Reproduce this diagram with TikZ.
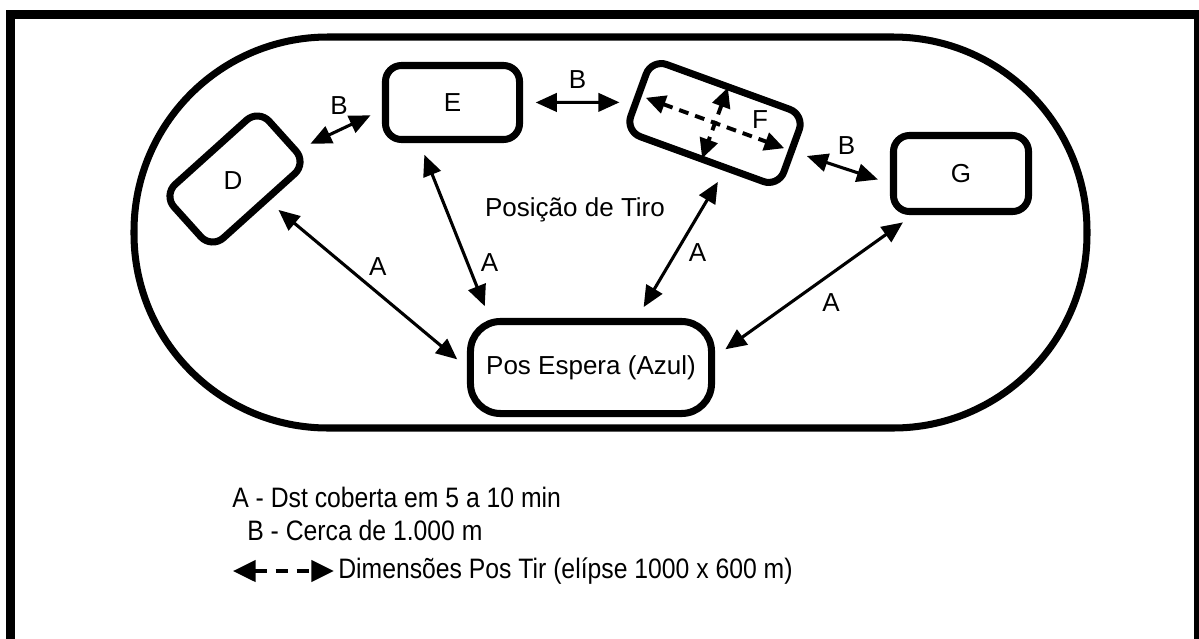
\documentclass[tikz,border=0pt]{standalone}
\usepackage{fontspec}
\setmainfont{Liberation Sans}
\newfontfamily\legendfont[FakeStretch=0.88]{Liberation Sans}
\usetikzlibrary{arrows.meta,positioning}
\tikzset{
	posbox/.style={draw, line width=5pt, rounded corners=0.4cm, inner sep=0, minimum width=3.35cm, minimum height=1.85cm},
	link/.style={<->, >={Triangle[width=13pt,length=15pt]}, line width=2.2pt, shorten <=9pt, shorten >=9pt},
	dimlink/.style={<->, >={Triangle[width=13pt,length=14pt]}, line width=2.8pt, dash pattern=on 7pt off 5pt},
	legend/.style={anchor=west, inner sep=0, font=\legendfont\fontsize{20}{24}\selectfont}
}
\begin{document}
\begin{tikzpicture}[x=0.025cm, y=-0.025cm, font=\fontsize{18.5}{22}\selectfont]
	\useasboundingbox (0,0) rectangle (1199,639);
	%%% frame and track
	\draw[line width=6.4pt] (10.5,14.5) rectangle (1198.5,643);
	\draw[line width=5pt, rounded corners=4.85cm] (134,37) rectangle (1087,428);

	%%% positions
	\node[posbox, rotate=42, minimum width=3.2cm, minimum height=1.8cm] (D) at (235,179) {};
	\node (Dtxt) at (233,181) {D};
	\node[posbox] (E) at (452.5,102.5) {E};
	\node[posbox, rotate=-20, minimum width=4.07cm, minimum height=1.92cm] (F) at (715,123) {};
	\node (Ftxt) at (760,120) {F};
	\node[posbox, minimum width=3.375cm, minimum height=1.9cm] (G) at (961,173.5) {G};
	\node[posbox, rounded corners=0.75cm, minimum width=6.025cm, minimum height=2.3cm] (P) at (591,367.5) {Pos Espera (Azul)};
	\node (tiro) at (575,210) {Posição de Tiro};

	%%% B links
	\draw[link] (D.-17) -- node[midway,xshift=-1pt,yshift=17pt] {B} (E.186);
	\draw[link] (E.east) -- node[midway,yshift=16pt] {B} (F.186);
	\draw[link] (F.east) -- node[midway,xshift=3pt,yshift=16pt] {B} (G.188);

	%%% A links
	\draw[link] (D.-76) -- node[midway,xshift=7pt,yshift=13pt] {A} (P.west);
	\draw[link] (E.231) -- node[pos=0.7,xshift=15pt,yshift=2pt] {A} (P.154);
	\draw[link] (F.-59) -- node[midway,xshift=12pt,yshift=-6pt] {A} (P.47);
	\draw[link] (G.221) -- node[midway,xshift=12pt,yshift=-12pt] {A} (P.5);

	%%% shooting area
	\draw[dimlink, shorten <=8pt, shorten >=8pt] (F.west) -- (F.east);
	\draw[dimlink, shorten <=3pt, shorten >=3pt] (F.north) -- (F.south);

	%%% legend
	\node[legend] (legA) at (232,497) {A - Dst coberta em 5 a 10 min};
	\node[legend] (legB) at (247,530) {B - Cerca de 1.000 m};
	\node[legend] (legC) at (338,571) {Dimensões Pos Tir (elípse 1000 x 600 m)};
	\coordinate (dimstart) at (233,571);
	\draw[dimlink, >={Triangle[width=15pt,length=16pt]}, dash pattern=on 9pt off 6pt, shorten >=3pt] (dimstart) -- (legC.west);
\end{tikzpicture}
\end{document}
